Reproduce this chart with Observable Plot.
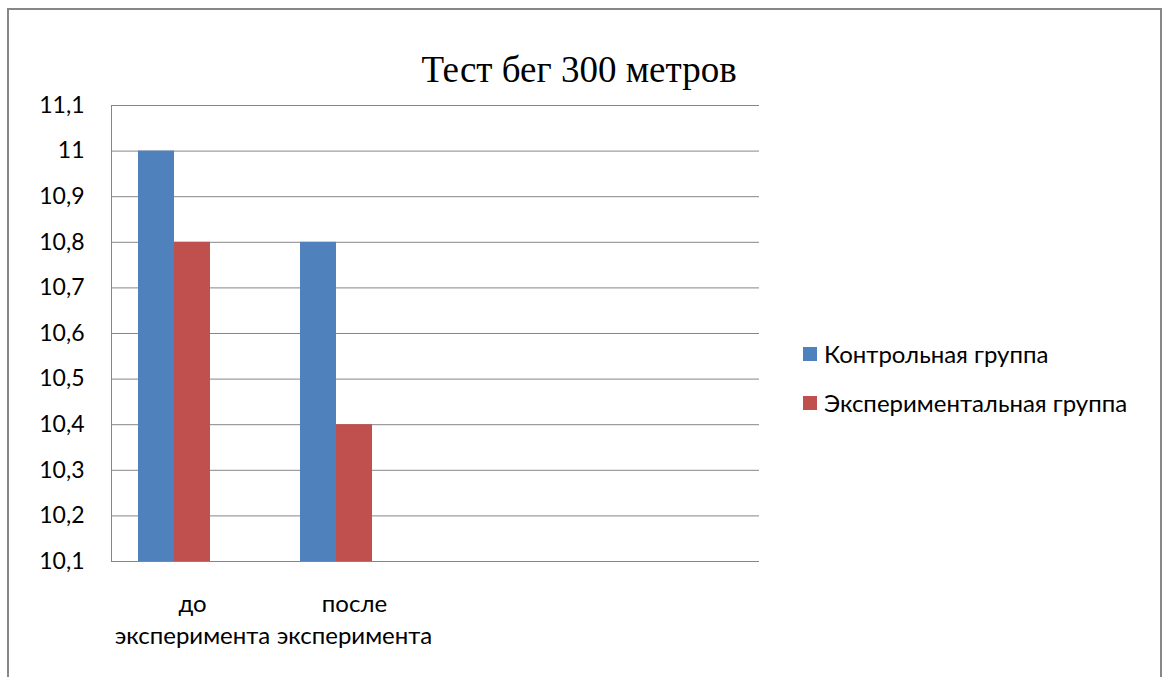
<!DOCTYPE html>
<html>
<head>
<meta charset="utf-8">
<script src="https://cdn.jsdelivr.net/npm/d3@7"></script>
<script src="https://cdn.jsdelivr.net/npm/@observablehq/plot@0.6"></script>
<style>
  html, body { margin: 0; padding: 0; background: #fff; overflow: hidden; }
  #wrap { position: relative; width: 1169px; height: 677px; overflow: hidden; background: #fff; }
  #border { position: absolute; left: 7px; top: 8px; width: 1151px; height: 720px; border: 2px solid #878787; box-sizing: content-box; }
  #chart { position: absolute; left: 0; top: 0; }
  #title { position: absolute; left: 0; width: 1158px; text-align: center; top: 49px; font-family: "Liberation Serif", "Times New Roman", serif; font-size: 37px; line-height: 42px; color: #000; }
  .leg { position: absolute; left: 803px; font-family: Lato, sans-serif; font-size: 24px; line-height: 28px; color: #000; white-space: nowrap; }
  .leg span.sw { position: absolute; left: 0; top: 0; width: 14px; height: 14px; }
  .leg span.tx { position: absolute; left: 21px; top: -7px; }
</style>
</head>
<body>
<div id="wrap">
  <div id="border"></div>
  <div id="chart"></div>
  <div id="title"></div>
  <div id="legend"></div>
</div>
<script>
const title = "Тест бег 300 метров";
const categories = ["до\nэксперимента", "после\nэксперимента", "", " "];
const seriesNames = ["Контрольная группа", "Экспериментальная группа", "Ряд 3"];
const legendSeries = ["Контрольная группа", "Экспериментальная группа"];
const colors = ["#4F81BD", "#C0504D", "#9BBB59"];
const controlValues = [11.0, 10.8];
const experimentalValues = [10.8, 10.4];
const yTicks = [10.1, 10.2, 10.3, 10.4, 10.5, 10.6, 10.7, 10.8, 10.9, 11.0, 11.1];

const data = [];
controlValues.forEach((v, i) => data.push({cat: categories[i], series: seriesNames[0], value: v}));
experimentalValues.forEach((v, i) => data.push({cat: categories[i], series: seriesNames[1], value: v}));

const grid = [];
categories.forEach(c => yTicks.forEach(t => grid.push({cat: c, y: t})));

const fmt = d => (Math.round(d * 10) / 10).toString().replace(".", ",");

const chart = Plot.plot({
  width: 1169,
  height: 677,
  marginLeft: 110,
  marginRight: 409,
  marginTop: 105,
  marginBottom: 116,
  style: {fontFamily: "Lato, sans-serif", fontSize: "23px", color: "#000", background: "transparent"},
  fx: {domain: categories, paddingInner: 0, paddingOuter: 0, label: null},
  x: {domain: seriesNames, paddingInner: 0, paddingOuter: 0.75, axis: null},
  y: {domain: [10.1, 11.1], label: null},
  color: {domain: seriesNames, range: colors},
  marks: [
    Plot.ruleY(grid, {fx: "cat", y: "y", stroke: "#868686", strokeWidth: 1}),
    Plot.barY(data, {fx: "cat", x: "series", y1: 10.1, y2: "value", fill: "series"}),
    Plot.frame({anchor: "left", facetAnchor: "left", stroke: "#868686", strokeWidth: 1}),
    Plot.axisY(yTicks, {tickSize: 0, tickPadding: 27, fill: "#000", tickFormat: fmt, label: null, fontSize: 23}),
    Plot.axisFx({anchor: "bottom", tickSize: 0, tickPadding: 28, lineHeight: 1.32, label: null, fill: "#000", fontSize: 24, tickFormat: d => d})
  ]
});
document.getElementById("chart").appendChild(chart);
document.getElementById("title").textContent = title;

const leg = document.getElementById("legend");
legendSeries.forEach((s, i) => {
  const row = document.createElement("div");
  row.className = "leg";
  row.style.top = (347 + i * 49) + "px";
  const sw = document.createElement("span");
  sw.className = "sw";
  sw.style.background = colors[i];
  const tx = document.createElement("span");
  tx.className = "tx";
  tx.textContent = s;
  row.appendChild(sw);
  row.appendChild(tx);
  leg.appendChild(row);
});
</script>
</body>
</html>
